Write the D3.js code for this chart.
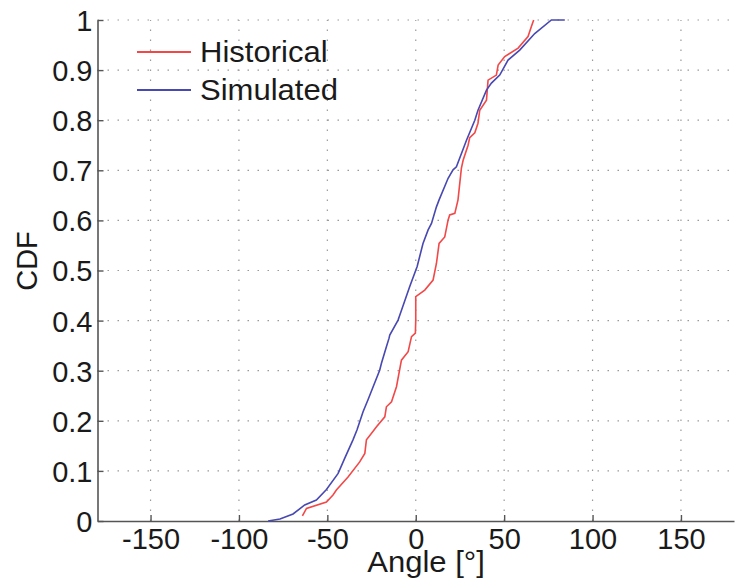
<!DOCTYPE html>
<html><head><meta charset="utf-8">
<script src="https://cdn.jsdelivr.net/npm/d3@7"></script>
<style>body{margin:0;background:#fff;}svg{display:block;font-family:"Liberation Sans",Arial,sans-serif;}</style>
</head><body>
<svg id="c" width="735" height="581"></svg>
<script>
const xTicks = [-150, -100, -50, 0, 50, 100, 150];
const yTicks = [0, 0.1, 0.2, 0.3, 0.4, 0.5, 0.6, 0.7, 0.8, 0.9, 1];
const seriesNames = ["Historical", "Simulated"];
const historicalX = [-64.1,-61.8,-50.5,-46.8,-44.9,-38.3,-31.7,-28.8,-27.9,-25,-22.2,-17.5,-16.6,-13.7,-10.9,-8.1,-4.3,-2.4,-0.2,0,0,5.1,9.8,11.7,13.2,16.4,18.3,19.2,22.1,23.9,25.8,26.8,29.6,30.5,33.4,35.2,36.2,40,40.9,45.6,46.6,50.3,57.9,63.5,65.4,66.7];
const historicalY = [0.01,0.025,0.038,0.052,0.062,0.088,0.118,0.135,0.162,0.175,0.188,0.208,0.228,0.238,0.268,0.321,0.338,0.368,0.375,0.401,0.448,0.461,0.481,0.514,0.554,0.567,0.601,0.611,0.614,0.641,0.704,0.72,0.75,0.765,0.775,0.794,0.82,0.84,0.88,0.89,0.91,0.927,0.944,0.967,0.987,1.0];
const simulatedX = [-83.5,-76.8,-69.4,-62.8,-56.2,-50.5,-43.9,-40.2,-35.5,-33.2,-29.8,-27,-24.1,-20.4,-19.4,-16.6,-15.1,-14.7,-10,-9,-3.4,0.8,4.1,7,8.9,11.7,13.2,18.3,21.1,23,28.7,33.4,35.2,40,42.8,47.5,52.2,58.8,67.3,76.7,84.3];
const simulatedY = [0,0.004,0.014,0.032,0.042,0.063,0.095,0.125,0.162,0.182,0.218,0.242,0.268,0.301,0.315,0.348,0.365,0.371,0.401,0.411,0.468,0.508,0.554,0.581,0.594,0.627,0.641,0.684,0.701,0.707,0.76,0.8,0.82,0.86,0.874,0.89,0.92,0.94,0.973,1.0,1.0];
const colors = ["#f24848", "#4848b2"];

const svg = d3.select("#c");
const x = d3.scaleLinear().domain([-180, 180]).range([97.5, 734]);
const y = d3.scaleLinear().domain([0, 1]).range([521, 20]);

// grid
const g = svg.append("g");
g.selectAll("line.vg").data(xTicks).join("line")
  .attr("x1", d => x(d)).attr("x2", d => x(d)).attr("y1", y(0)).attr("y2", y(1))
  .attr("stroke", "#9a9a9a").attr("stroke-width", 1.2).attr("stroke-dasharray", "1.5,8.5");
g.selectAll("line.hg").data(yTicks.filter(d => d > 0)).join("line")
  .attr("x1", x(-180)).attr("x2", x(180)).attr("y1", d => y(d)).attr("y2", d => y(d))
  .attr("stroke", "#9a9a9a").attr("stroke-width", 1.2).attr("stroke-dasharray", "1.5,8.5");

// axes
const xa = svg.append("g").attr("transform", `translate(0,${y(0)})`)
  .call(d3.axisBottom(x).tickValues(xTicks).tickFormat(d => String(d)).tickSize(-6).tickPadding(7).tickSizeOuter(0));
const ya = svg.append("g").attr("transform", `translate(${x(-180)},0)`)
  .call(d3.axisLeft(y).tickValues(yTicks).tickFormat(d => String(d)).tickSize(-6).tickPadding(5).tickSizeOuter(0));
[xa, ya].forEach(a => {
  a.select(".domain").attr("stroke", "#555").attr("stroke-width", 1.6);
  a.selectAll(".tick line").attr("stroke", "#555").attr("stroke-width", 1.4);
  a.selectAll("text").attr("fill", "#1a1a1a").attr("font-size", 29).attr("font-family", "Liberation Sans, Arial, sans-serif");
});
xa.selectAll("text").attr("dy", "0.71em");
ya.selectAll("text").attr("dy", "0.36em");

// lines
const line = d3.line().x(d => x(d[0])).y(d => y(d[1]));
const hist = historicalX.map((v, i) => [v, historicalY[i]]);
const sim = simulatedX.map((v, i) => [v, simulatedY[i]]);
[hist, sim].forEach((data, i) => {
  svg.append("path").datum(data).attr("d", line)
    .attr("fill", "none").attr("stroke", colors[i]).attr("stroke-width", 1.6);
});

// legend
seriesNames.forEach((n, i) => {
  const yy = 52 + i * 38;
  svg.append("line").attr("x1", 137).attr("x2", 191).attr("y1", yy).attr("y2", yy)
    .attr("stroke", colors[i]).attr("stroke-width", 1.8);
  svg.append("text").attr("transform", `translate(200,${yy + 10}) scale(1.07,1)`)
    .attr("font-size", 29).attr("fill", "#1a1a1a").text(n);
});

// axis labels
svg.append("text").attr("transform", "translate(426,572) scale(1.07,1)").attr("text-anchor", "middle")
  .attr("font-size", 29).attr("fill", "#1a1a1a").text("Angle [°]");
svg.append("text").attr("transform", "translate(37,261) rotate(-90)").attr("text-anchor", "middle")
  .attr("font-size", 29).attr("fill", "#1a1a1a").text("CDF");
</script>
</body></html>
